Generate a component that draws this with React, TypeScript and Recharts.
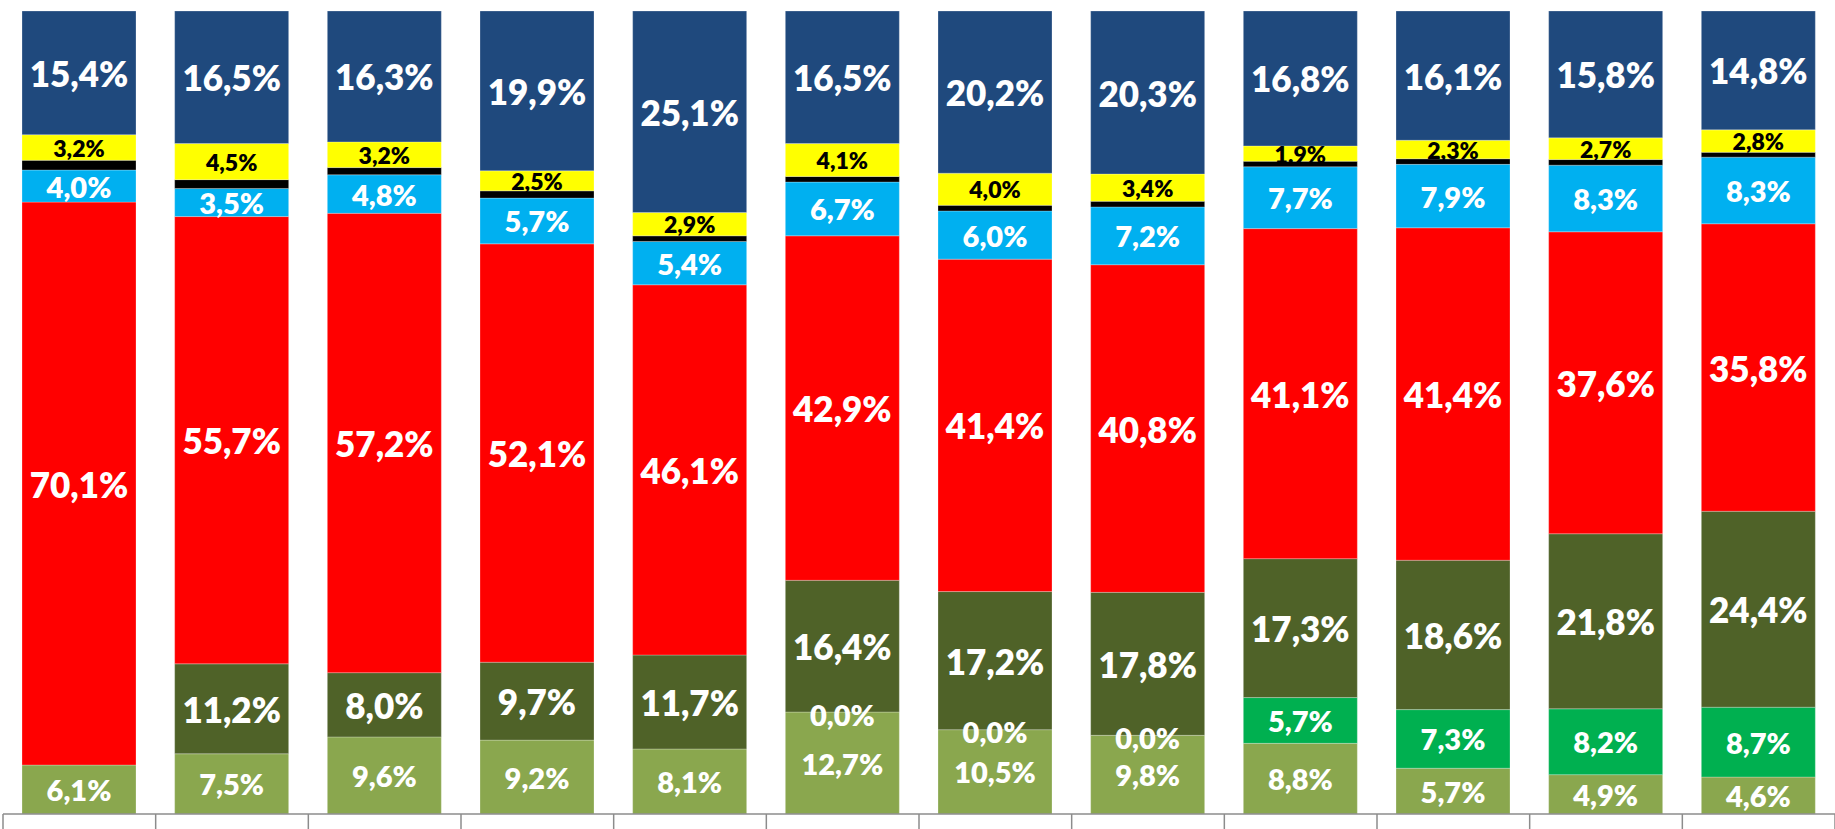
import { Bar, BarChart, LabelList, XAxis, YAxis } from "recharts";

const categories = ["1", "2", "3", "4", "5", "6", "7", "8", "9", "10", "11", "12"];

const lightOlive = [6.1, 7.5, 9.6, 9.2, 8.1, 12.7, 10.5, 9.8, 8.8, 5.7, 4.9, 4.6];
const brightGreen = [null, null, null, null, null, 0, 0, 0, 5.7, 7.3, 8.2, 8.7];
const darkOlive = [null, 11.2, 8.0, 9.7, 11.7, 16.4, 17.2, 17.8, 17.3, 18.6, 21.8, 24.4];
const red = [70.1, 55.7, 57.2, 52.1, 46.1, 42.9, 41.4, 40.8, 41.1, 41.4, 37.6, 35.8];
const lightBlue = [4.0, 3.5, 4.8, 5.7, 5.4, 6.7, 6.0, 7.2, 7.7, 7.9, 8.3, 8.3];
const black = [1.2, 1.1, 0.9, 0.9, 0.7, 0.7, 0.7, 0.7, 0.7, 0.7, 0.7, 0.6];
const yellow = [3.2, 4.5, 3.2, 2.5, 2.9, 4.1, 4.0, 3.4, 1.9, 2.3, 2.7, 2.8];
const darkBlue = [15.4, 16.5, 16.3, 19.9, 25.1, 16.5, 20.2, 20.3, 16.8, 16.1, 15.8, 14.8];

const data = categories.map((name, i) => ({
  name,
  lightOlive: lightOlive[i],
  brightGreen: brightGreen[i],
  darkOlive: darkOlive[i],
  red: red[i],
  lightBlue: lightBlue[i],
  black: black[i],
  yellow: yellow[i],
  darkBlue: darkBlue[i],
}));

const WIDTH = 1835;
const HEIGHT = 829;
const MARGIN = { top: 11, right: 0, bottom: 0, left: 3 };
const BAND = (WIDTH - MARGIN.left - MARGIN.right) / categories.length;
const FONT = "Lato, 'Open Sans', sans-serif";
const WEIGHT = 800;

const fmt = (v: number) => v.toFixed(1).replace(".", ",") + "%";

const makeLabel = (size: number, color: string, skipZero = false) => (props: any) => {
  const { x, y, width, height, value } = props;
  if (value === null || value === undefined) return null;
  if (skipZero && Number(value) === 0) return null;
  return (
    <text
      x={Number(x) + Number(width) / 2}
      y={Number(y) + Number(height) / 2}
      textAnchor="middle"
      dominantBaseline="central"
      fontSize={size}
      fontWeight={WEIGHT}
      fill={color}
      fontFamily={FONT}
    >
      {fmt(Number(value))}
    </text>
  );
};

// zero-height green segments still show "0,0%" at the top edge of the olive segment below
const zeroLabel = (props: any) => {
  const { x, y, width, value } = props;
  if (value !== 0) return null;
  return (
    <text
      x={Number(x) + Number(width) / 2}
      y={Number(y) + 2}
      textAnchor="middle"
      dominantBaseline="central"
      fontSize={29}
      fontWeight={WEIGHT}
      fill="#fff"
      fontFamily={FONT}
    >
      {fmt(0)}
    </text>
  );
};

function BoundaryTick(props: any) {
  const { x, y, index } = props;
  const half = BAND / 2;
  const last = index === categories.length - 1;
  return (
    <g>
      <line x1={x - half} x2={x - half} y1={y} y2={y + 20} stroke="#8c8c8c" strokeWidth={1.5} />
      {last && (
        <line x1={x + half} x2={x + half} y1={y} y2={y + 20} stroke="#8c8c8c" strokeWidth={1.5} />
      )}
    </g>
  );
}

const series = [
  { key: "lightOlive", color: "#8AA74E", size: 29, text: "#fff" },
  { key: "brightGreen", color: "#00B050", size: 29, text: "#fff" },
  { key: "darkOlive", color: "#4F6228", size: 35, text: "#fff" },
  { key: "red", color: "#FF0000", size: 35, text: "#fff" },
  { key: "lightBlue", color: "#00B0F0", size: 29, text: "#fff" },
  { key: "black", color: "#000000", size: 0, text: "#000" },
  { key: "yellow", color: "#FFFF00", size: 23, text: "#000" },
  { key: "darkBlue", color: "#1F497D", size: 35, text: "#fff" },
];

export default function App() {
  return (
    <div style={{ position: "absolute", left: 0, top: 0, width: WIDTH, height: HEIGHT, background: "#fff" }}>
      <BarChart width={WIDTH} height={HEIGHT} data={data} margin={MARGIN} barSize={114}>
        <XAxis
          dataKey="name"
          height={15}
          axisLine={{ stroke: "#8c8c8c", strokeWidth: 1.5 }}
          tickLine={false}
          tickSize={0}
          tickMargin={0}
          tick={<BoundaryTick />}
          interval={0}
        />
        <YAxis hide domain={[0, 100]} allowDataOverflow />
        {series.map((s) => (
          <Bar
            key={s.key}
            dataKey={s.key}
            stackId="a"
            fill={s.color}
            stroke="#ffffff"
            strokeOpacity={0.25}
            strokeWidth={1}
            isAnimationActive={false}
          >
            {s.size > 0 && (
              <LabelList dataKey={s.key} content={makeLabel(s.size, s.text, s.key === "brightGreen")} />
            )}
            {s.key === "lightOlive" && <LabelList dataKey="brightGreen" content={zeroLabel} />}
          </Bar>
        ))}
      </BarChart>
    </div>
  );
}
